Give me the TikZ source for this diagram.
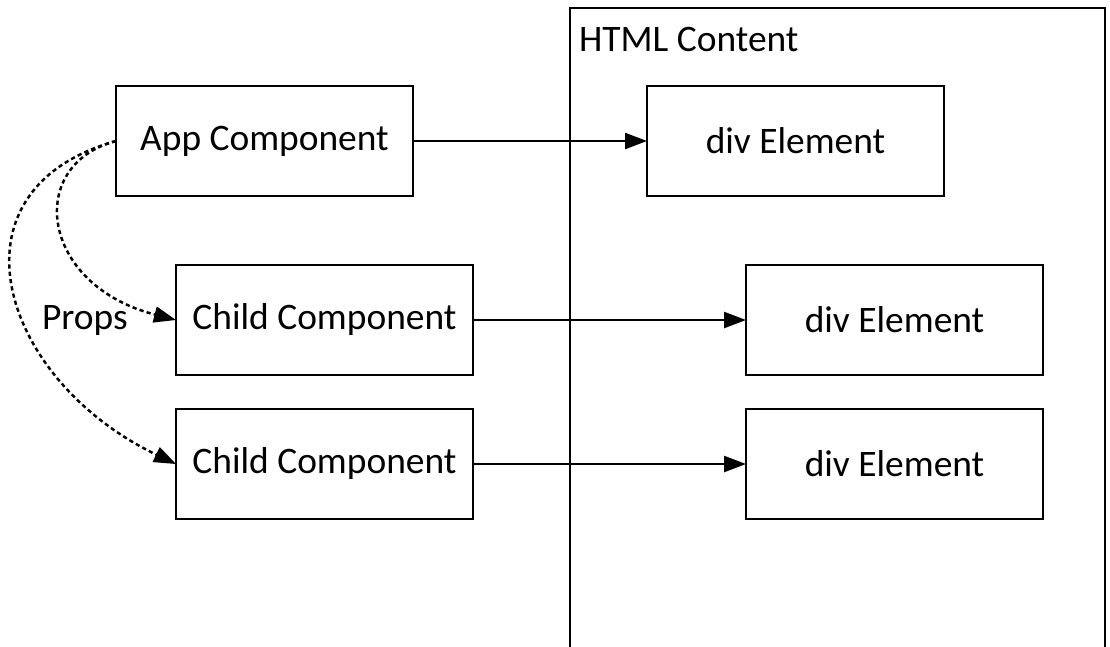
\documentclass[tikz,border=0pt]{standalone}
\usepackage{fontspec}
\setmainfont{Carlito}
\usetikzlibrary{positioning, arrows.meta}

\begin{document}
\begin{tikzpicture}[
  % ---- Style definitions ----
  comp/.style={
    draw, minimum width=5.94cm, minimum height=2.2cm,
    line width=1.4pt, align=center, outer sep=0pt,
    font=\fontsize{21.3}{25}\selectfont
  },
  container/.style={
    draw, minimum width=10.7cm, minimum height=13.44cm,
    line width=1.4pt, inner sep=0pt
  },
  txt/.style={
    inner sep=0pt, font=\fontsize{21.3}{25}\selectfont
  },
  arr/.style={
    -{Triangle[length=0.44cm, width=0.32cm]}, line width=1.4pt
  },
  props/.style={
    -{Triangle[length=0.44cm, width=0.32cm]}, line width=1.4pt,
    dash pattern=on 2.4pt off 1.8pt
  },
]
\useasboundingbox (0,0) rectangle (22.2,-12.92);
\clip (0,0) rectangle (22.2,-12.92);

% ---- HTML side ----
\node[container] (html) at (16.75,-6.88) {};
\node[txt, anchor=base west] (title)
  at ([xshift=0.2cm, yshift=-0.9cm]html.north west) {HTML Content};

% ---- Components ----
\node[comp] (app) at (5.29,-2.82) {App Component};
\node[comp, below=1.38cm of app, xshift=1.2cm] (child1) {Child Component};
\node[comp, below=0.68cm of child1] (child2) {Child Component};

% ---- Elements ----
\node[comp, right=4.68cm of app] (div1) {div Element};
\node[comp, right=5.46cm of child1] (div2) {div Element};
\node[comp, right=5.46cm of child2] (div3) {div Element};

% ---- Render arrows ----
\draw[arr] (app) -- (div1);
\draw[arr] (child1) -- (div2);
\draw[arr] (child2) -- (div3);

% ---- Props flow ----
\node[txt, left=0.96cm of child1] (lblprops) {Props};
\draw[props] (app.west) .. controls +(-1.82,-0.48) and +(-2.72,0.7) .. (child1.west);
\draw[props] (app.west) .. controls +(-3.5,-0.98) and +(-3.52,1.68) .. (child2.west);

\end{tikzpicture}
\end{document}
